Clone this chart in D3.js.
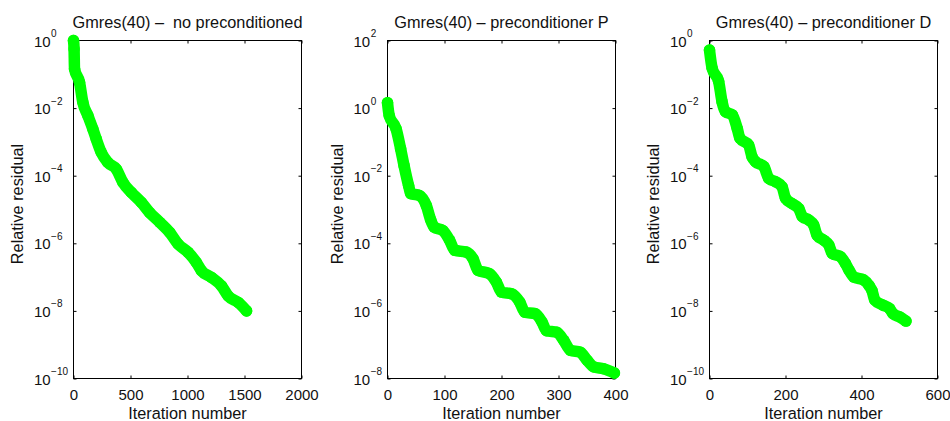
<!DOCTYPE html>
<html>
<head>
<meta charset="utf-8">
<script src="https://cdn.jsdelivr.net/npm/d3@7"></script>
<style>
  body { margin: 0; background: #fff; }
  text { font-family: "Liberation Sans", Arial, Helvetica, sans-serif; fill: #111; white-space: pre; }
</style>
</head>
<body>
<svg id="chart" width="950" height="421"></svg>
<script>
// titles and axis labels
const TITLES = ['Gmres(40) \u2013  no preconditioned', 'Gmres(40) \u2013 preconditioner P', 'Gmres(40) \u2013 preconditioner D'];
const X_LABEL = 'Iteration number';
const Y_LABEL = 'Relative residual';

// tick values per panel
const X_TICKS = [[0, 500, 1000, 1500, 2000], [0, 100, 200, 300, 400], [0, 200, 400, 600]];
const Y_TICKS = [[1e-10, 1e-8, 1e-6, 1e-4, 1e-2, 1], [1e-8, 1e-6, 1e-4, 1e-2, 1, 1e2], [1e-10, 1e-8, 1e-6, 1e-4, 1e-2, 1]];

// panel 1: no preconditioner
const ITER_NOPREC = [0, 5, 9, 53, 82, 126, 170, 199, 243, 302, 375, 434, 507, 595, 668, 756, 844, 917, 1005, 1078, 1122, 1210, 1298, 1357, 1445, 1518];
const RES_NOPREC = [1.0, 5.6e-1, 1.45e-1, 5.75e-2, 1.48e-2, 6.0e-3, 2.4e-3, 1.23e-3, 4.9e-4, 2.45e-4, 1.58e-4, 6.3e-5, 3.2e-5, 1.62e-5, 8.1e-6, 4.2e-6, 2.1e-6, 9.5e-7, 5.4e-7, 2.7e-7, 1.55e-7, 9.8e-8, 5.5e-8, 2.75e-8, 1.78e-8, 1.0e-8];

// panel 2: preconditioner P
const ITER_P = [0, 3, 15, 23, 29, 37, 41, 56, 68, 76, 82, 97, 109, 118, 138, 150, 159, 179, 191, 200, 218, 232, 241, 259, 271, 279, 297, 309, 321, 338, 350, 362, 379, 398];
const RES_P = [1.45, 6.0e-1, 2.45e-1, 6.3e-2, 2.0e-2, 5.1e-3, 2.95e-3, 2.6e-3, 1.32e-3, 4.8e-4, 3.0e-4, 2.4e-4, 1.23e-4, 6.2e-5, 5.5e-5, 3.5e-5, 1.58e-5, 1.26e-5, 7.1e-6, 3.6e-6, 3.2e-6, 1.82e-6, 9.1e-7, 8.3e-7, 4.7e-7, 2.6e-7, 2.35e-7, 1.35e-7, 6.8e-8, 6.0e-8, 3.5e-8, 2.2e-8, 1.95e-8, 1.45e-8];

// panel 3: preconditioner D
const ITER_D = [0, 7, 24, 33, 42, 60, 73, 80, 103, 112, 121, 143, 156, 174, 191, 200, 217, 235, 244, 261, 274, 283, 301, 314, 323, 345, 358, 367, 380, 405, 420, 428, 435, 457, 474, 483, 501, 517];
const RES_D = [5.2e-1, 1.5e-1, 6.2e-2, 1.55e-2, 7.9e-3, 6.3e-3, 2.5e-3, 1.29e-3, 8.1e-4, 3.6e-4, 2.6e-4, 1.86e-4, 8.3e-5, 6.6e-5, 4.7e-5, 2.15e-5, 1.5e-5, 1.07e-5, 6.2e-6, 4.9e-6, 3.5e-6, 1.74e-6, 1.23e-6, 8.9e-7, 5.0e-7, 4.0e-7, 2.5e-7, 1.62e-7, 1.0e-7, 8.3e-8, 5.6e-8, 3.9e-8, 2.1e-8, 1.48e-8, 1.17e-8, 8.3e-9, 6.6e-9, 5.0e-9];

const ITERS = [ITER_NOPREC, ITER_P, ITER_D];
const RESIDUALS = [RES_NOPREC, RES_P, RES_D];

const PANEL_LEFT = [73.5, 387.5, 709.5];
const plotW = 228;
const plotTop = 40.5, plotBottom = 378.5;
const tickFont = 15, labelFont = 16.3;

const svg = d3.select('#chart');

PANEL_LEFT.forEach((left, i) => {
  const xTicks = X_TICKS[i];
  const yTicks = Y_TICKS[i];
  const x = d3.scaleLinear()
      .domain([xTicks[0], xTicks[xTicks.length - 1]])
      .range([left, left + plotW]);
  const y = d3.scaleLog()
      .domain([yTicks[0], yTicks[yTicks.length - 1]])
      .range([plotBottom, plotTop]);

  const g = svg.append('g');

  // box
  g.append('rect')
      .attr('x', left).attr('y', plotTop)
      .attr('width', plotW).attr('height', plotBottom - plotTop)
      .attr('fill', 'none').attr('stroke', '#000').attr('stroke-width', 1);

  // inward ticks on all four sides
  const tick = 3;
  g.append('g').attr('transform', `translate(0,${plotBottom})`)
      .call(d3.axisBottom(x).tickValues(xTicks).tickFormat(d3.format('d'))
          .tickSizeInner(-tick).tickSizeOuter(0))
      .call(a => a.select('.domain').remove())
      .call(a => a.selectAll('text')
          .attr('y', 21).attr('dy', null)
          .attr('font-size', tickFont));
  g.append('g').attr('transform', `translate(0,${plotTop})`)
      .call(d3.axisTop(x).tickValues(xTicks).tickSizeInner(-tick).tickSizeOuter(0).tickFormat(''))
      .call(a => a.select('.domain').remove());
  g.append('g').attr('transform', `translate(${left},0)`)
      .call(d3.axisLeft(y).tickValues(yTicks).tickSizeInner(-tick).tickSizeOuter(0).tickFormat(''))
      .call(a => a.select('.domain').remove());
  g.append('g').attr('transform', `translate(${left + plotW},0)`)
      .call(d3.axisRight(y).tickValues(yTicks).tickSizeInner(-tick).tickSizeOuter(0).tickFormat(''))
      .call(a => a.select('.domain').remove());

  // y tick labels as 10 with superscript exponent, left aligned like matlab
  const yLabels = g.append('g').selectAll('text')
    .data(yTicks)
    .join('text')
      .attr('y', d => y(d) + 6)
      .attr('font-size', tickFont);
  yLabels.append('tspan').text('10');
  yLabels.append('tspan')
      .attr('font-size', 10)
      .attr('dy', -9.5)
      .attr('dx', 0.5)
      .text(d => {
        const e = Math.round(Math.log10(d));
        return e < 0 ? '\u2212' + (-e) : String(e);
      });
  let maxW = 0;
  yLabels.each(function() { maxW = Math.max(maxW, this.getBBox().width); });
  const labelX = left - 5 - maxW;
  yLabels.attr('x', labelX);

  // y axis label
  g.append('text')
      .attr('transform', `translate(${labelX - 10.5},204) rotate(-90)`)
      .attr('text-anchor', 'middle')
      .attr('font-size', labelFont)
      .text(Y_LABEL);

  // x axis label
  g.append('text')
      .attr('x', left + plotW / 2).attr('y', 419)
      .attr('text-anchor', 'middle')
      .attr('font-size', labelFont)
      .text(X_LABEL);

  // title
  g.append('text')
      .attr('x', left + plotW / 2).attr('y', 27.5)
      .attr('text-anchor', 'middle')
      .attr('font-size', labelFont)
      .text(TITLES[i]);

  // residual history
  const pts = ITERS[i].map((it, k) => [it, RESIDUALS[i][k]]);
  const line = d3.line()
      .x(d => x(d[0]))
      .y(d => y(d[1]))
      .curve(d3.curveMonotoneX);
  g.append('path')
      .datum(pts)
      .attr('d', line)
      .attr('fill', 'none')
      .attr('stroke', '#00ff00')
      .attr('stroke-width', 11.5)
      .attr('stroke-linejoin', 'round')
      .attr('stroke-linecap', 'round');
  g.append('g').attr('fill', '#00ff00')
    .selectAll('circle')
    .data(pts)
    .join('circle')
      .attr('cx', d => x(d[0]))
      .attr('cy', d => y(d[1]))
      .attr('r', 5.75);
});
</script>
</body>
</html>
